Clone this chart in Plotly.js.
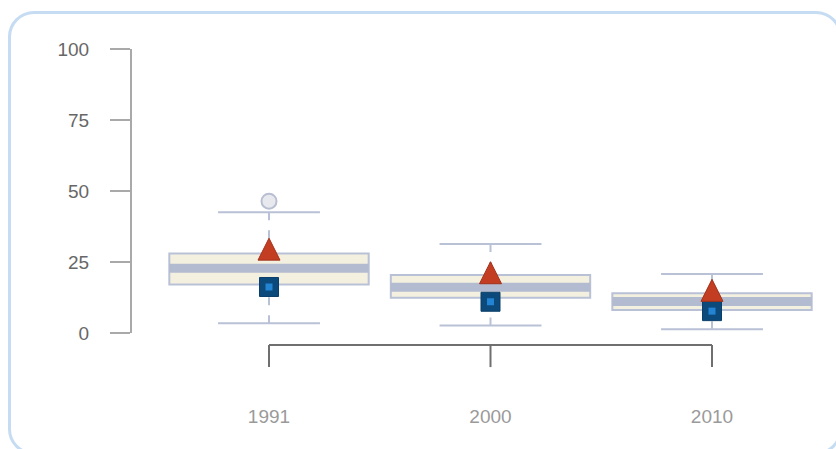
<!DOCTYPE html>
<html>
<head>
<meta charset="utf-8">
<script src="https://cdn.plot.ly/plotly-3.0.1.min.js"></script>
<style>
  html, body { margin: 0; padding: 0; background: #ffffff; overflow: hidden; }
  #chart { position: absolute; left: 0; top: 0; width: 836px; height: 449px; }
  #frame { position: absolute; left: 8px; top: 11px; width: 834px; height: 444px;
           box-sizing: border-box; border: 3px solid #c6dcf2; border-radius: 26px;
           pointer-events: none; }
</style>
</head>
<body>
<div id="chart"></div>
<div id="frame"></div>
<script>
// ---- data ----
var categories   = ['1991', '2000', '2010'];
var q1Values     = [17.1, 12.4, 8.1];
var medianValues = [22.8, 16.1, 11.1];
var q3Values     = [28.0, 20.4, 14.0];
var lowerWhisker = [3.4, 2.6, 1.3];
var upperWhisker = [42.5, 31.3, 20.8];
var triangleValues = [33.4, 25.1, 18.9];
var squareValues   = [16.2, 11.0, 7.7];
var outlierValues  = [[46.4], [], []];
var yTickValues  = [0, 25, 50, 75, 100];

// ---- styles ----
var boxLine = '#b9c1d6';
var boxFill = '#f4f0df';
var bandColor = '#b3bbd0';
var boxWidth = 0.9;
var capHalf = 0.23;
var bandHalf = 0.45;

var idx = categories.map(function (c, i) { return i; });

var traces = [];

// boxes (precomputed quartiles)
traces.push({
  type: 'box',
  x: idx,
  q1: q1Values,
  median: medianValues,
  q3: q3Values,
  lowerfence: q1Values,
  upperfence: q3Values,
  width: boxWidth,
  whiskerwidth: 0,
  fillcolor: boxFill,
  line: { color: boxLine, width: 2 },
  boxpoints: false,
  hoverinfo: 'skip',
  showlegend: false
});

// whiskers (dashed, starting at the caps)
var wx = [], wy = [];
idx.forEach(function (i) {
  wx.push(i, i, null, i, i, null);
  wy.push(upperWhisker[i], q3Values[i], null, lowerWhisker[i], q1Values[i], null);
});
traces.push({
  type: 'scatter', mode: 'lines', x: wx, y: wy,
  line: { color: boxLine, width: 2, dash: '8px,10px' },
  hoverinfo: 'skip', showlegend: false
});

// whisker caps
var cx = [], cy = [];
idx.forEach(function (i) {
  cx.push(i - capHalf, i + capHalf, null, i - capHalf, i + capHalf, null);
  cy.push(upperWhisker[i], upperWhisker[i], null, lowerWhisker[i], lowerWhisker[i], null);
});
traces.push({
  type: 'scatter', mode: 'lines', x: cx, y: cy,
  line: { color: boxLine, width: 2 },
  hoverinfo: 'skip', showlegend: false
});

// median bands
var mx = [], my = [];
idx.forEach(function (i) {
  mx.push(i - bandHalf, i + bandHalf, null);
  my.push(medianValues[i], medianValues[i], null);
});
traces.push({
  type: 'scatter', mode: 'lines', x: mx, y: my,
  line: { color: bandColor, width: 9 },
  hoverinfo: 'skip', showlegend: false
});

// outliers
var ox = [], oy = [];
idx.forEach(function (i) {
  outlierValues[i].forEach(function (v) { ox.push(i); oy.push(v); });
});
traces.push({
  type: 'scatter', mode: 'markers', x: ox, y: oy,
  marker: { symbol: 'circle', size: 15, color: '#e8e9ee', line: { color: '#b8bfd2', width: 2 } },
  hoverinfo: 'skip', showlegend: false
});

// squares (outer + inner)
traces.push({
  type: 'scatter', mode: 'markers', x: idx, y: squareValues,
  marker: { symbol: 'square', size: 19, color: '#0c4a7c', line: { color: '#0a3f6b', width: 1 } },
  hoverinfo: 'skip', showlegend: false
});
traces.push({
  type: 'scatter', mode: 'markers', x: idx, y: squareValues,
  marker: { symbol: 'square', size: 7, color: '#2284d3' },
  hoverinfo: 'skip', showlegend: false
});

// triangles
traces.push({
  type: 'scatter', mode: 'markers', x: idx, y: triangleValues,
  marker: { symbol: 'arrow-up', size: 22, color: '#c33d22', line: { color: '#a2311a', width: 1 } },
  hoverinfo: 'skip', showlegend: false
});

// x bracket shapes
var shapes = [{
  type: 'line', xref: 'x', yref: 'paper',
  x0: idx[0], x1: idx[idx.length - 1], y0: -0.0423, y1: -0.0423,
  line: { color: '#6f6f6f', width: 2 }
}];
idx.forEach(function (i) {
  shapes.push({
    type: 'line', xref: 'x', yref: 'paper',
    x0: i, x1: i, y0: -0.0423, y1: -0.12,
    line: { color: '#6f6f6f', width: 2 }
  });
});

var layout = {
  width: 836, height: 449,
  margin: { l: 132, r: 13, t: 49, b: 116, pad: 0 },
  paper_bgcolor: 'rgba(0,0,0,0)',
  plot_bgcolor: 'rgba(0,0,0,0)',
  showlegend: false,
  font: { family: 'Liberation Sans, Arial, sans-serif' },
  xaxis: {
    type: 'linear',
    range: [-0.6185, 2.5011],
    tickvals: idx,
    ticktext: categories,
    showline: false, showgrid: false, zeroline: false,
    ticks: '',
    ticklabelstandoff: 70,
    tickfont: { size: 19, color: '#9a9a9a' },
    fixedrange: true
  },
  yaxis: {
    range: [0, 100],
    tickvals: yTickValues,
    ticktext: yTickValues.map(String),
    showline: true, linecolor: '#a9a9a9', linewidth: 2,
    ticks: 'outside', ticklen: 20, tickwidth: 2, tickcolor: '#a9a9a9',
    showgrid: false, zeroline: false,
    ticklabelstandoff: 17,
    tickfont: { size: 19, color: '#676767' },
    fixedrange: true
  },
  shapes: shapes
};

Plotly.newPlot('chart', traces, layout, { staticPlot: true, displayModeBar: false });
</script>
</body>
</html>
